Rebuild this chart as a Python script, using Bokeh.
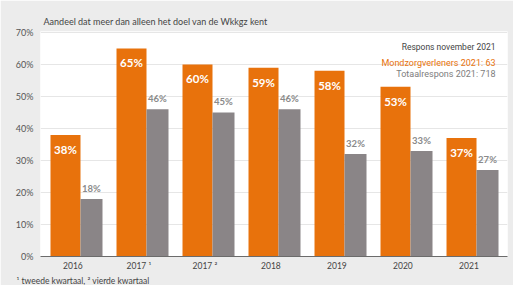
from bokeh.plotting import figure
from bokeh.models import Range1d, FixedTicker, Label, ColumnDataSource, Title
from bokeh.core.properties import value
from bokeh.embed import file_html
from bokeh.resources import INLINE

categories = ["2016", "2017 ¹", "2017 ²", "2018", "2019", "2020", "2021"]
mondzorg = [38, 65, 60, 59, 58, 53, 37]
totaal = [18, 46, 45, 46, 32, 33, 27]
y_ticks = [0, 10, 20, 30, 40, 50, 60, 70]

ORANGE = "#e8720c"
GRAY = "#8a8587"
BG = "#ececec"
FONT = "Lato"

idx = list(range(len(categories)))
src_o = ColumnDataSource(dict(x=[i + 0.2273 for i in idx], y=mondzorg,
                              t=[f"{v}%" for v in mondzorg]))
src_g = ColumnDataSource(dict(x=[i + 0.6212 for i in idx], y=totaal,
                              t=[f"{v}%" for v in totaal]))

FW, FH = 467, 225
p = figure(frame_width=FW, frame_height=FH, output_backend="svg", toolbar_location=None,
           x_range=Range1d(-0.1515, 6.924), y_range=Range1d(0, 70.3),
           min_border_left=40, min_border_right=6, min_border_top=31,
           min_border_bottom=26)
p.background_fill_color = "white"
p.border_fill_color = BG
p.outline_line_color = None

p.title.text = "Aandeel dat meer dan alleen het doel van de Wkkgz kent"
p.title.align = "left"
p.title.offset = 3
p.title.standoff = 9
p.title.text_font = FONT
p.title.text_font_size = "9px"
p.title.text_font_style = "normal"
p.title.text_color = "#444444"

p.add_layout(Title(text="¹ tweede kwartaal, ² vierde kwartaal", align="left",
                   offset=-24, standoff=0, text_font=FONT, text_font_size="8.5px",
                   text_font_style="normal", text_color="#444444"), "below")

p.vbar(x="x", top="y", width=0.4545, bottom=0, source=src_o, color=ORANGE, line_color=None)
p.vbar(x="x", top="y", width=0.3333, bottom=0, source=src_g, color=GRAY, line_color=None)

p.text(x="x", y="y", text="t", source=src_o, text_align="center", text_baseline="top",
       y_offset=8, text_color="white", text_font=value(FONT), text_font_style="bold",
       text_font_size="11.5px")
p.text(x="x", y="y", text="t", source=src_g, text_align="center", text_baseline="bottom",
       y_offset=-5, text_color="#8a8a8a", text_font=value(FONT), text_font_style="bold",
       text_font_size="9.5px")

# axes
p.xaxis.ticker = FixedTicker(ticks=[i + 0.34 for i in idx])
p.xaxis.major_label_overrides = {i + 0.34: c for i, c in zip(idx, categories)}
p.xaxis.major_tick_line_color = None
p.xaxis.minor_tick_line_color = None
p.xaxis.major_tick_out = 0
p.xaxis.major_tick_in = 0
p.xaxis.minor_tick_out = 0
p.xaxis.axis_line_color = "#6b6b6b"
p.xaxis.major_label_standoff = 4
p.xaxis.major_label_text_font = FONT
p.xaxis.major_label_text_font_size = "8.5px"
p.xaxis.major_label_text_color = "#444444"

p.yaxis.ticker = FixedTicker(ticks=y_ticks)
p.yaxis.major_label_overrides = {t: f"{t}%" for t in y_ticks}
p.yaxis.major_tick_line_color = None
p.yaxis.minor_tick_line_color = None
p.yaxis.major_tick_out = 0
p.yaxis.major_tick_in = 0
p.yaxis.minor_tick_out = 0
p.yaxis.axis_line_color = None
p.yaxis.major_label_standoff = 7
p.yaxis.major_label_text_font = FONT
p.yaxis.major_label_text_font_size = "9px"
p.yaxis.major_label_text_color = "#555555"
p.yaxis.major_label_text_baseline = "bottom"

p.xgrid.grid_line_color = None
p.ygrid.grid_line_color = "#e6e6e6"

p.add_layout(Label(x=455, y=FH - 15, x_units="screen", y_units="screen",
                   text="Respons november 2021", text_font="Roboto",
                   text_font_size="8.5px", text_color="#444444",
                   text_baseline="middle", text_align="right"))
p.add_layout(Label(x=455, y=FH - 31, x_units="screen", y_units="screen",
                   text="Mondzorgverleners 2021: 63", text_font="Roboto",
                   text_font_size="9px", text_color=ORANGE,
                   text_baseline="middle", text_align="right"))
p.add_layout(Label(x=455, y=FH - 42, x_units="screen", y_units="screen",
                   text="Totaalrespons 2021: 718", text_font="Roboto",
                   text_font_size="9px", text_color="#7d7d7d",
                   text_baseline="middle", text_align="right"))

open("out.html", "w").write(file_html(p, INLINE))
